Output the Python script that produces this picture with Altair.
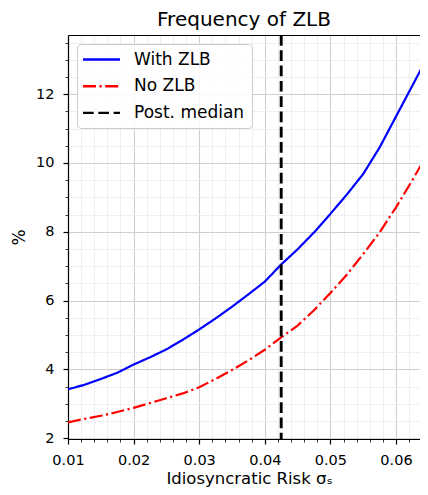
import altair as alt
import pandas as pd

# ---- data ----
sigma = [0.01, 0.0125, 0.015, 0.0175, 0.02, 0.0225, 0.025, 0.0275, 0.03, 0.0325,
         0.035, 0.0375, 0.04, 0.0425, 0.045, 0.0475, 0.05, 0.0525, 0.055, 0.0575,
         0.06, 0.0625, 0.065]
with_zlb = [3.42, 3.55, 3.72, 3.90, 4.14, 4.35, 4.58, 4.86, 5.16, 5.48,
            5.82, 6.18, 6.55, 7.05, 7.49, 7.98, 8.52, 9.08, 9.68, 10.45,
            11.35, 12.25, 13.15]
no_zlb = [2.46, 2.56, 2.65, 2.76, 2.88, 3.02, 3.16, 3.30, 3.48, 3.72,
          3.98, 4.26, 4.57, 4.93, 5.27, 5.72, 6.22, 6.75, 7.35, 7.98,
          8.71, 9.50, 10.33]
series_names = ["With ZLB", "No ZLB", "Post. median"]
posterior_median = [0.0425]

x_major = [0.01, 0.02, 0.03, 0.04, 0.05, 0.06]
x_minor = [0.010, 0.012, 0.014, 0.016, 0.018, 0.020, 0.022, 0.024, 0.026, 0.028,
           0.030, 0.032, 0.034, 0.036, 0.038, 0.040, 0.042, 0.044, 0.046, 0.048,
           0.050, 0.052, 0.054, 0.056, 0.058, 0.060, 0.062]
y_major = [2, 4, 6, 8, 10, 12]
y_minor = [2.0, 2.5, 3.0, 3.5, 4.0, 4.5, 5.0, 5.5, 6.0, 6.5, 7.0, 7.5, 8.0, 8.5,
           9.0, 9.5, 10.0, 10.5, 11.0, 11.5, 12.0, 12.5, 13.0, 13.5]

n = len(sigma)
lines_df = pd.DataFrame({
    "sigma": sigma + sigma,
    "value": with_zlb + no_zlb,
    "series": [series_names[0]] * n + [series_names[1]] * n,
})
rule_df = pd.DataFrame({"sigma": posterior_median, "series": [series_names[2]]})

FONT = "DejaVu Sans"
W, H = 352, 404

xs = alt.Scale(domain=[0.01, 0.06366], nice=False, zero=False)
ys = alt.Scale(domain=[1.975, 13.72], nice=False, zero=False)
cs = alt.Scale(domain=series_names, range=["#0000ff", "#ff0000", "#000000"])
ds = alt.Scale(domain=series_names, range=[[1, 0], [13, 3.5, 2.2, 3.5], [10.7, 4.6]])

leg = alt.Legend(
    title=None, orient="none", legendX=9, legendY=9,
    symbolType="M-2.64,0H2.64", symbolSize=196, symbolStrokeWidth=2.4,
    symbolOffset=9, labelOffset=24,
    labelFont=FONT, labelFontSize=17, labelColor="#000000",
    padding=7, rowPadding=8.7,
    fillColor="rgba(255,255,255,0.85)", strokeColor="#cccccc", cornerRadius=4,
)

minor_layer = alt.Chart(lines_df).mark_point(opacity=0, clip=True).encode(
    x=alt.X("sigma:Q", scale=xs, axis=alt.Axis(
        orient="bottom", values=x_minor, grid=True, gridColor="#ebebeb", gridWidth=0.8,
        labels=False, title=None, domain=False, tickSize=3, tickColor="#222222",
        tickWidth=0.9)),
    y=alt.Y("value:Q", scale=ys, axis=alt.Axis(
        orient="left", values=y_minor, grid=True, gridColor="#ebebeb", gridWidth=0.8,
        labels=False, title=None, domain=False, tickSize=3, tickColor="#222222",
        tickWidth=0.9)),
)

lines_layer = alt.Chart(lines_df).mark_line(strokeWidth=2.2, clip=True).encode(
    x=alt.X("sigma:Q", scale=xs, axis=alt.Axis(
        orient="bottom", values=x_major, format=".2f", grid=True, gridColor="#cfcfcf",
        gridWidth=1.1, domain=True, domainColor="#000000", domainWidth=1.2,
        tickSize=5, tickColor="#000000", tickWidth=1.2,
        labelFont=FONT, labelFontSize=14.5, labelColor="#000000", labelPadding=9,
        labelFlush=False,
        title="Idiosyncratic Risk σₛ", titleFont=FONT, titleFontSize=16.5,
        titleFontWeight="normal", titleColor="#000000",
        titleX=181, titleY=44.3, titleBaseline="alphabetic", titleAlign="center")),
    y=alt.Y("value:Q", scale=ys, axis=alt.Axis(
        orient="left", values=y_major, format="d", grid=True, gridColor="#cfcfcf",
        gridWidth=1.1, domain=True, domainColor="#000000", domainWidth=1.2,
        tickSize=5, tickColor="#000000", tickWidth=1.2,
        labelFont=FONT, labelFontSize=14.5, labelColor="#000000", labelPadding=9,
        title="%", titleFont=FONT, titleFontSize=17, titleFontWeight="normal",
        titleColor="#000000", titleX=-44, titleY=H / 2, titleAngle=-90,
        titleBaseline="alphabetic", titleAlign="center")),
    color=alt.Color("series:N", scale=cs, legend=leg),
    strokeDash=alt.StrokeDash("series:N", scale=ds, legend=leg),
    detail="series:N",
)

rule_layer = alt.Chart(rule_df).mark_rule(strokeWidth=2.9).encode(
    x=alt.X("sigma:Q", scale=xs, axis=alt.Axis(
        orient="top", domain=True, domainColor="#000000", domainWidth=1.2,
        ticks=False, labels=False, grid=False, title=None)),
    color=alt.Color("series:N", scale=cs, legend=leg),
    strokeDash=alt.StrokeDash("series:N", scale=ds, legend=leg),
)

chart = alt.layer(minor_layer, lines_layer, rule_layer).resolve_axis(
    x="independent", y="independent"
).properties(
    width=W, height=H,
    title=alt.TitleParams(
        text="Frequency of ZLB", font=FONT, fontSize=20, fontWeight="normal",
        color="#000000", anchor="middle", baseline="alphabetic", offset=11, dy=23.6),
    autosize=alt.AutoSizeParams(type="none"),
    padding={"left": 60, "top": 27, "right": 0, "bottom": 48},
).configure_view(
    stroke=None
).configure(background="white")

chart.save("out.html", embed_options={"renderer": "svg", "actions": False})
